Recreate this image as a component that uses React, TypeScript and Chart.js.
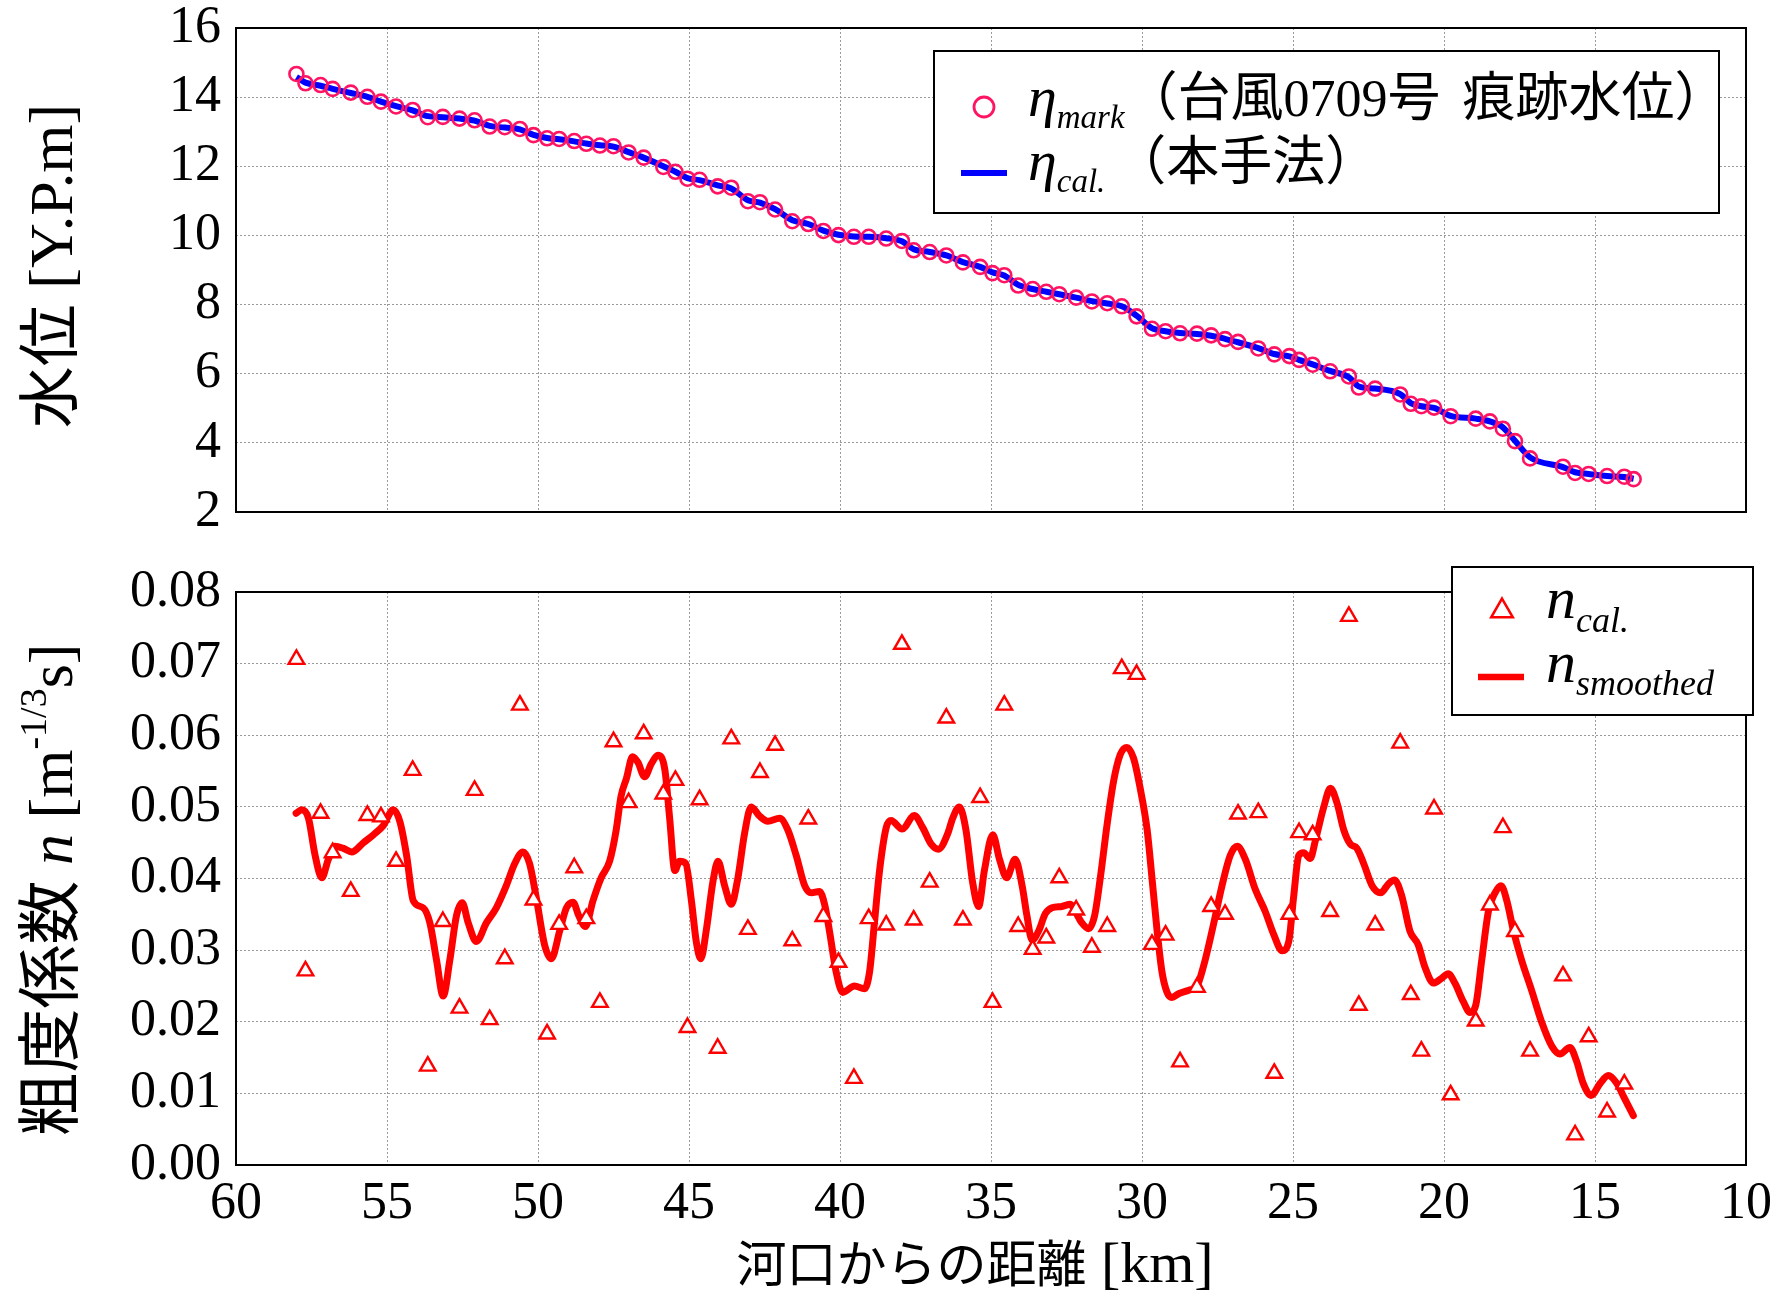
import React, { useEffect, useRef } from "react";
import { Chart, registerables } from "chart.js";
Chart.register(...registerables);

// ---------- data ----------
const distanceKm = [
  58.0, 57.7, 57.2, 56.8, 56.2, 55.65, 55.2, 54.7, 54.15, 53.65,
  53.15, 52.6, 52.1, 51.6, 51.1, 50.6, 50.15, 49.7, 49.3, 48.8,
  48.4, 47.95, 47.5, 47.0, 46.5, 45.85, 45.45, 45.05, 44.65, 44.05,
  43.6, 43.05, 42.65, 42.15, 41.58, 41.05, 40.55, 40.05, 39.54, 39.05,
  38.47, 37.95, 37.56, 37.03, 36.48, 35.93, 35.36, 34.95, 34.56, 34.1,
  33.62, 33.17, 32.74, 32.18, 31.66, 31.15, 30.67, 30.18, 29.67, 29.22,
  28.74, 28.18, 27.71, 27.25, 26.82, 26.15, 25.62, 25.12, 24.8, 24.35,
  23.77, 23.15, 22.82, 22.28, 21.45, 21.1, 20.75, 20.33, 19.78, 18.95,
  18.48, 18.05, 17.65, 17.15, 16.06, 15.66, 15.21, 14.6, 14.03, 13.72,
];

const etaMark = [
  14.67, 14.4, 14.35, 14.24, 14.13, 14.01, 13.87, 13.73, 13.63, 13.42,
  13.43, 13.38, 13.33, 13.15, 13.13, 13.08, 12.9, 12.81, 12.79, 12.73,
  12.65, 12.6, 12.58, 12.4, 12.25, 11.98, 11.84, 11.64, 11.61, 11.42,
  11.38, 10.99, 10.96, 10.75, 10.41, 10.33, 10.13, 10.01, 9.96, 9.96,
  9.91, 9.84, 9.57, 9.52, 9.42, 9.22, 9.09, 8.91, 8.85, 8.55,
  8.45, 8.37, 8.3, 8.2, 8.09, 8.04, 7.95, 7.66, 7.3, 7.23,
  7.17, 7.16, 7.11, 7.0, 6.92, 6.73, 6.56, 6.51, 6.4, 6.26,
  6.07, 5.92, 5.6, 5.57, 5.4, 5.13, 5.06, 5.02, 4.77, 4.7,
  4.62, 4.41, 4.05, 3.55, 3.31, 3.13, 3.1, 3.04, 3.02, 2.95,
];

const etaCal = [
  14.58, 14.42, 14.33, 14.24, 14.12, 14.01, 13.87, 13.74, 13.62, 13.45,
  13.42, 13.38, 13.32, 13.17, 13.12, 13.07, 12.91, 12.82, 12.78, 12.72,
  12.66, 12.61, 12.57, 12.41, 12.25, 12.0, 11.84, 11.66, 11.6, 11.45,
  11.36, 11.02, 10.95, 10.76, 10.44, 10.33, 10.14, 10.02, 9.97, 9.96,
  9.92, 9.83, 9.6, 9.52, 9.42, 9.23, 9.09, 8.93, 8.84, 8.57,
  8.45, 8.37, 8.3, 8.2, 8.1, 8.03, 7.95, 7.68, 7.32, 7.23,
  7.18, 7.15, 7.1, 7.01, 6.91, 6.74, 6.57, 6.5, 6.4, 6.27,
  6.08, 5.9, 5.63, 5.57, 5.41, 5.15, 5.06, 5.01, 4.78, 4.7,
  4.62, 4.45, 4.06, 3.58, 3.3, 3.15, 3.1, 3.04, 3.01, 2.96,
];

const nCal = [
  0.0706, 0.0271, 0.0491, 0.0436, 0.0382, 0.0488, 0.0486, 0.0424, 0.0551, 0.0138,
  0.034, 0.0219, 0.0523, 0.0203, 0.0288, 0.0642, 0.037, 0.0183, 0.0336, 0.0415,
  0.0344, 0.0227, 0.0591, 0.0506, 0.0602, 0.0518, 0.0537, 0.0192, 0.051, 0.0163,
  0.0595, 0.0329, 0.0548, 0.0586, 0.0313, 0.0483, 0.0347, 0.0283, 0.0121, 0.0344,
  0.0335, 0.0727, 0.0342, 0.0395, 0.0624, 0.0342, 0.0513, 0.0227, 0.0642, 0.0333,
  0.0301, 0.0317, 0.0401, 0.0356, 0.0304, 0.0333, 0.0693, 0.0685, 0.0308, 0.0321,
  0.0144, 0.0248, 0.0361, 0.035, 0.049, 0.0492, 0.0128, 0.035, 0.0464, 0.0461,
  0.0354, 0.0766, 0.0223, 0.0335, 0.0589, 0.0238, 0.0159, 0.0497, 0.0098, 0.0201,
  0.0363, 0.0471, 0.0326, 0.0159, 0.0264, 0.0042, 0.0179, 0.0074, 0.0113, null,
];

const smoothKm = [
  58.01, 57.82, 57.6, 57.38, 57.16, 56.94, 56.72, 56.44, 56.17, 55.78,
  55.45, 55.12, 54.79, 54.57, 54.35, 54.13, 53.8, 53.58, 53.36, 53.14,
  52.92, 52.7, 52.51, 52.31, 52.04, 51.71, 51.38, 51.05, 50.77, 50.5,
  50.28, 50.06, 49.78, 49.56, 49.28, 49.06, 48.84, 48.65, 48.43, 48.18,
  47.91, 47.63, 47.41, 47.25, 47.07, 46.87, 46.69, 46.47, 46.25, 46.03,
  45.8, 45.64, 45.47, 45.31, 45.11, 44.92, 44.76, 44.61, 44.43, 44.21,
  44.04, 43.82, 43.6, 43.38, 43.16, 42.94, 42.66, 42.39, 42.0, 41.73,
  41.45, 41.17, 40.95, 40.68, 40.51, 40.35, 40.13, 39.91, 39.52, 39.19,
  39.02, 38.86, 38.69, 38.47, 38.31, 37.94, 37.54, 37.26, 36.98, 36.74,
  36.43, 36.27, 36.05, 35.83, 35.61, 35.41, 35.22, 34.94, 34.72, 34.48,
  34.2, 33.97, 33.81, 33.64, 33.42, 33.2, 32.98, 32.65, 32.37, 32.21,
  31.99, 31.77, 31.57, 31.38, 31.16, 30.94, 30.72, 30.5, 30.28, 30.06,
  29.83, 29.67, 29.5, 29.34, 29.17, 29.01, 28.79, 28.45, 28.18, 27.96,
  27.68, 27.35, 27.08, 26.85, 26.58, 26.25, 25.92, 25.64, 25.36, 25.14,
  24.98, 24.81, 24.65, 24.43, 24.26, 23.98, 23.76, 23.54, 23.32, 23.1,
  22.88, 22.66, 22.38, 22.1, 21.83, 21.64, 21.4, 21.13, 20.85, 20.63,
  20.35, 20.1, 19.86, 19.64, 19.36, 19.14, 18.95, 18.75, 18.53, 18.31,
  18.11, 17.92, 17.7, 17.43, 17.1, 16.77, 16.43, 16.16, 15.83, 15.61,
  15.39, 15.13, 14.83, 14.56, 14.28, 14.01, 13.73,
];

const nSmoothed = [
  0.0491, 0.0496, 0.0484, 0.0432, 0.0401, 0.0427, 0.0445, 0.0442, 0.0437, 0.045,
  0.0461, 0.0474, 0.0496, 0.0479, 0.0432, 0.0369, 0.0359, 0.0338, 0.0286, 0.0236,
  0.0286, 0.0348, 0.0366, 0.0338, 0.0312, 0.0338, 0.0359, 0.039, 0.0421, 0.0437,
  0.0421, 0.0374, 0.0307, 0.0288, 0.0327, 0.0359, 0.0367, 0.0348, 0.0333, 0.0369,
  0.0401, 0.0424, 0.0468, 0.0515, 0.054, 0.057, 0.0562, 0.0542, 0.056, 0.0572,
  0.0552, 0.0484, 0.0411, 0.0424, 0.0421, 0.0369, 0.0312, 0.0288, 0.0327, 0.0395,
  0.0424, 0.039, 0.0364, 0.0401, 0.0463, 0.05, 0.0487, 0.048, 0.0484, 0.0468,
  0.0432, 0.039, 0.038, 0.0382, 0.0364, 0.0327, 0.027, 0.0241, 0.025, 0.0246,
  0.027, 0.0338, 0.0411, 0.0471, 0.0481, 0.0469, 0.0488, 0.0471, 0.0448, 0.0441,
  0.0463, 0.0484, 0.05, 0.0468, 0.0395, 0.0361, 0.0411, 0.0461, 0.0427, 0.0401,
  0.0427, 0.039, 0.0348, 0.0314, 0.0327, 0.0351, 0.0359, 0.0361, 0.0364, 0.0354,
  0.0338, 0.033, 0.0348, 0.0401, 0.0474, 0.0536, 0.0573, 0.0583, 0.0568, 0.0526,
  0.0468, 0.0401, 0.0327, 0.027, 0.0241, 0.0234, 0.0239, 0.0244, 0.025, 0.0278,
  0.0327, 0.039, 0.0432, 0.0445, 0.0427, 0.0385, 0.0354, 0.0322, 0.0299, 0.0312,
  0.0374, 0.0432, 0.0436, 0.0428, 0.0453, 0.05, 0.0526, 0.0505, 0.0468, 0.0448,
  0.0442, 0.0421, 0.039, 0.038, 0.0393, 0.0398, 0.0376, 0.0327, 0.0307, 0.0276,
  0.0254, 0.026, 0.0267, 0.0254, 0.0228, 0.0213, 0.0223, 0.0286, 0.0354, 0.038,
  0.039, 0.0369, 0.0327, 0.0286, 0.0244, 0.02, 0.0166, 0.0155, 0.0164, 0.0145,
  0.0114, 0.0097, 0.0114, 0.0125, 0.0114, 0.0092, 0.0069,
];

const xTickValues = [60, 55, 50, 45, 40, 35, 30, 25, 20, 15, 10];
const etaTickValues = [2, 4, 6, 8, 10, 12, 14, 16];
const nTickValues = [0, 0.01, 0.02, 0.03, 0.04, 0.05, 0.06, 0.07, 0.08];

// ---------- styling ----------
const SERIF = "'Liberation Serif', 'Times New Roman', serif";
const CJK = "'Noto Sans CJK JP', 'Noto Sans CJK SC', sans-serif";
const MARK_COLOR = "rgb(255, 20, 100)";
const GRID_COLOR = "#9a9a9a";
const TOP_H = 560;
const BOT_H = 737;

type Run = { t: string; f: string; dy?: number; dx?: number };

function drawRuns(ctx: CanvasRenderingContext2D, runs: Run[], x: number, y: number, align: "left" | "center", rotate: boolean) {
  ctx.save();
  ctx.translate(x, y);
  if (rotate) ctx.rotate(-Math.PI / 2);
  ctx.textBaseline = "alphabetic";
  ctx.textAlign = "left";
  ctx.fillStyle = "#000";
  const widths = runs.map((r) => {
    ctx.font = r.f;
    return ctx.measureText(r.t).width + (r.dx || 0);
  });
  const total = widths.reduce((a, b) => a + b, 0);
  let cx = align === "center" ? -total / 2 : 0;
  runs.forEach((r, i) => {
    ctx.font = r.f;
    ctx.fillText(r.t, cx + (r.dx || 0), r.dy || 0);
    cx += widths[i];
  });
  ctx.restore();
}

function frame(chart: any) {
  const { ctx, chartArea: a } = chart;
  ctx.save();
  ctx.strokeStyle = "#000";
  ctx.lineWidth = 2;
  ctx.strokeRect(a.left, a.top, a.right - a.left, a.bottom - a.top);
  ctx.restore();
}

const tickFont = { family: SERIF, size: 52, lineHeight: 1 };

function gridOpts(tickLen: number) {
  return {
    color: GRID_COLOR,
    lineWidth: 1,
    drawTicks: tickLen > 0,
    tickLength: tickLen,
    tickColor: "rgba(0,0,0,0)",
  };
}

const topDecor = {
  id: "topDecor",
  afterDraw(chart: any) {
    const ctx: CanvasRenderingContext2D = chart.ctx;
    frame(chart);
    // y title
    drawRuns(ctx, [
      { t: "水位", f: `62px ${CJK}` },
      { t: " [Y.P.m]", f: `62px ${SERIF}` },
    ], 72, 266, "center", true);
    // legend
    ctx.save();
    ctx.fillStyle = "#fff";
    ctx.fillRect(934, 51, 785, 162);
    ctx.strokeStyle = "#000";
    ctx.lineWidth = 2;
    ctx.strokeRect(934, 51, 785, 162);
    ctx.beginPath();
    ctx.arc(984, 107, 10, 0, Math.PI * 2);
    ctx.strokeStyle = MARK_COLOR;
    ctx.lineWidth = 2.8;
    ctx.stroke();
    ctx.beginPath();
    ctx.moveTo(961, 173);
    ctx.lineTo(1007, 173);
    ctx.strokeStyle = "#0000ff";
    ctx.lineWidth = 6;
    ctx.stroke();
    ctx.restore();
    drawRuns(ctx, [
      { t: "η", f: `italic 58px ${SERIF}` },
      { t: "mark", f: `italic 33px ${SERIF}`, dy: 12 },
      { t: "（台風", f: `53px ${CJK}` },
      { t: "0709", f: `52px ${SERIF}` },
      { t: "号", f: `53px ${CJK}` },
      { t: "痕跡水位）", f: `53px ${CJK}`, dx: 22 },
    ], 1028, 116, "left", false);
    drawRuns(ctx, [
      { t: "η", f: `italic 58px ${SERIF}` },
      { t: "cal.", f: `italic 33px ${SERIF}`, dy: 12 },
      { t: "（本手法）", f: `53px ${CJK}`, dx: 8 },
    ], 1028, 180, "left", false);
  },
};

const botDecor = {
  id: "botDecor",
  afterDraw(chart: any) {
    const ctx: CanvasRenderingContext2D = chart.ctx;
    frame(chart);
    // y title
    drawRuns(ctx, [
      { t: "粗度係数", f: `64px ${CJK}` },
      { t: " ", f: `62px ${SERIF}` },
      { t: "n", f: `italic 62px ${SERIF}` },
      { t: " [m", f: `62px ${SERIF}` },
      { t: "-1/3", f: `38px ${SERIF}`, dy: -26 },
      { t: "s]", f: `62px ${SERIF}` },
    ], 72, 330, "center", true);
    // x title
    drawRuns(ctx, [
      { t: "河口からの距離", f: `50px ${CJK}` },
      { t: " [km]", f: `58px ${SERIF}` },
    ], 975, 722, "center", false);
    // legend
    ctx.save();
    ctx.fillStyle = "#fff";
    ctx.fillRect(1452, 7, 301, 148);
    ctx.strokeStyle = "#000";
    ctx.lineWidth = 2;
    ctx.strokeRect(1452, 7, 301, 148);
    const r = 12.5;
    const cx = 1502, cy = 51;
    ctx.beginPath();
    ctx.moveTo(cx, cy - r);
    ctx.lineTo(cx + Math.sin(Math.PI * 2 / 3) * r, cy - Math.cos(Math.PI * 2 / 3) * r);
    ctx.lineTo(cx + Math.sin(Math.PI * 4 / 3) * r, cy - Math.cos(Math.PI * 4 / 3) * r);
    ctx.closePath();
    ctx.strokeStyle = "#ff0000";
    ctx.lineWidth = 2.5;
    ctx.stroke();
    ctx.beginPath();
    ctx.moveTo(1478, 117);
    ctx.lineTo(1524, 117);
    ctx.strokeStyle = "#ff0000";
    ctx.lineWidth = 6.5;
    ctx.stroke();
    ctx.restore();
    drawRuns(ctx, [
      { t: "n", f: `italic 60px ${SERIF}` },
      { t: "cal.", f: `italic 36px ${SERIF}`, dy: 14 },
    ], 1546, 58, "left", false);
    drawRuns(ctx, [
      { t: "n", f: `italic 60px ${SERIF}` },
      { t: "smoothed", f: `italic 36px ${SERIF}`, dy: 13 },
    ], 1546, 122, "left", false);
  },
};

function xScale(showTicks: boolean) {
  return {
    type: "linear" as const,
    reverse: true,
    min: 10,
    max: 60,
    afterBuildTicks: (axis: any) => {
      axis.ticks = xTickValues.map((v) => ({ value: v }));
    },
    afterFit: (axis: any) => {
      axis.height = showTicks ? 132 : 0;
    },
    ticks: {
      display: showTicks,
      autoSkip: false,
      maxRotation: 0,
      color: "#000",
      font: tickFont,
      padding: 0,
      callback: (v: any) => String(v),
    },
    grid: gridOpts(showTicks ? 13 : 0),
    border: { display: false, dash: [2, 2] },
  };
}

function topConfig(): any {
  return {
    type: "line",
    data: {
      datasets: [
        {
          label: "η_mark（台風0709号 痕跡水位）",
          data: distanceKm.map((x, i) => ({ x, y: etaMark[i] })),
          showLine: false,
          pointStyle: "circle",
          pointRadius: 7,
          pointBorderWidth: 2.6,
          pointBorderColor: MARK_COLOR,
          pointBackgroundColor: "rgba(0,0,0,0)",
        },
        {
          label: "η_cal.（本手法）",
          data: distanceKm.map((x, i) => ({ x, y: etaCal[i] })),
          borderColor: "#0000ff",
          borderWidth: 6,
          pointRadius: 0,
          cubicInterpolationMode: "monotone",
        },
      ],
    },
    options: {
      responsive: false,
      animation: false,
      devicePixelRatio: 1,
      layout: { padding: { left: 0, right: 31, top: 28, bottom: TOP_H - 512 } },
      plugins: { legend: { display: false }, tooltip: { enabled: false } },
      scales: {
        x: xScale(false),
        y: {
          type: "linear",
          min: 2,
          max: 16,
          afterBuildTicks: (axis: any) => {
            axis.ticks = etaTickValues.map((v) => ({ value: v }));
          },
          afterFit: (axis: any) => {
            axis.width = 236;
          },
          ticks: { color: "#000", font: tickFont, padding: 0, callback: (v: any) => String(v) },
          grid: gridOpts(15),
          border: { display: false, dash: [2, 2] },
        },
      },
    },
    plugins: [topDecor],
  };
}

function bottomConfig(): any {
  return {
    type: "line",
    data: {
      datasets: [
        {
          label: "n_cal.",
          data: distanceKm.map((x, i) => ({ x, y: nCal[i] })),
          showLine: false,
          pointStyle: "triangle",
          pointRadius: 9,
          pointBorderWidth: 2.4,
          pointBorderColor: "#ff0000",
          pointBackgroundColor: "#ffffff",
        },
        {
          label: "n_smoothed",
          data: smoothKm.map((x, i) => ({ x, y: nSmoothed[i] })),
          borderColor: "#ff0000",
          borderWidth: 7,
          borderCapStyle: "round",
          borderJoinStyle: "round",
          pointRadius: 0,
          cubicInterpolationMode: "monotone",
        },
      ],
    },
    options: {
      responsive: false,
      animation: false,
      devicePixelRatio: 1,
      layout: { padding: { left: 0, right: 31, top: 32, bottom: 0 } },
      plugins: { legend: { display: false }, tooltip: { enabled: false } },
      scales: {
        x: xScale(true),
        y: {
          type: "linear",
          min: 0,
          max: 0.08,
          afterBuildTicks: (axis: any) => {
            axis.ticks = nTickValues.map((v) => ({ value: v }));
          },
          afterFit: (axis: any) => {
            axis.width = 236;
          },
          ticks: { color: "#000", font: tickFont, padding: 0, callback: (v: any) => Number(v).toFixed(2) },
          grid: gridOpts(15),
          border: { display: false, dash: [2, 2] },
        },
      },
    },
    plugins: [botDecor],
  };
}

export default function App() {
  const topRef = useRef<HTMLCanvasElement>(null);
  const botRef = useRef<HTMLCanvasElement>(null);
  useEffect(() => {
    const c1 = new Chart(topRef.current as HTMLCanvasElement, topConfig());
    const c2 = new Chart(botRef.current as HTMLCanvasElement, bottomConfig());
    return () => {
      c1.destroy();
      c2.destroy();
    };
  }, []);
  return (
    <div style={{ position: "absolute", left: 0, top: 0, width: 1777, height: 1297, background: "#fff" }}>
      <canvas ref={topRef} width={1777} height={TOP_H} style={{ position: "absolute", left: 0, top: 0, width: 1777, height: TOP_H }} />
      <canvas ref={botRef} width={1777} height={BOT_H} style={{ position: "absolute", left: 0, top: TOP_H, width: 1777, height: BOT_H }} />
    </div>
  );
}
